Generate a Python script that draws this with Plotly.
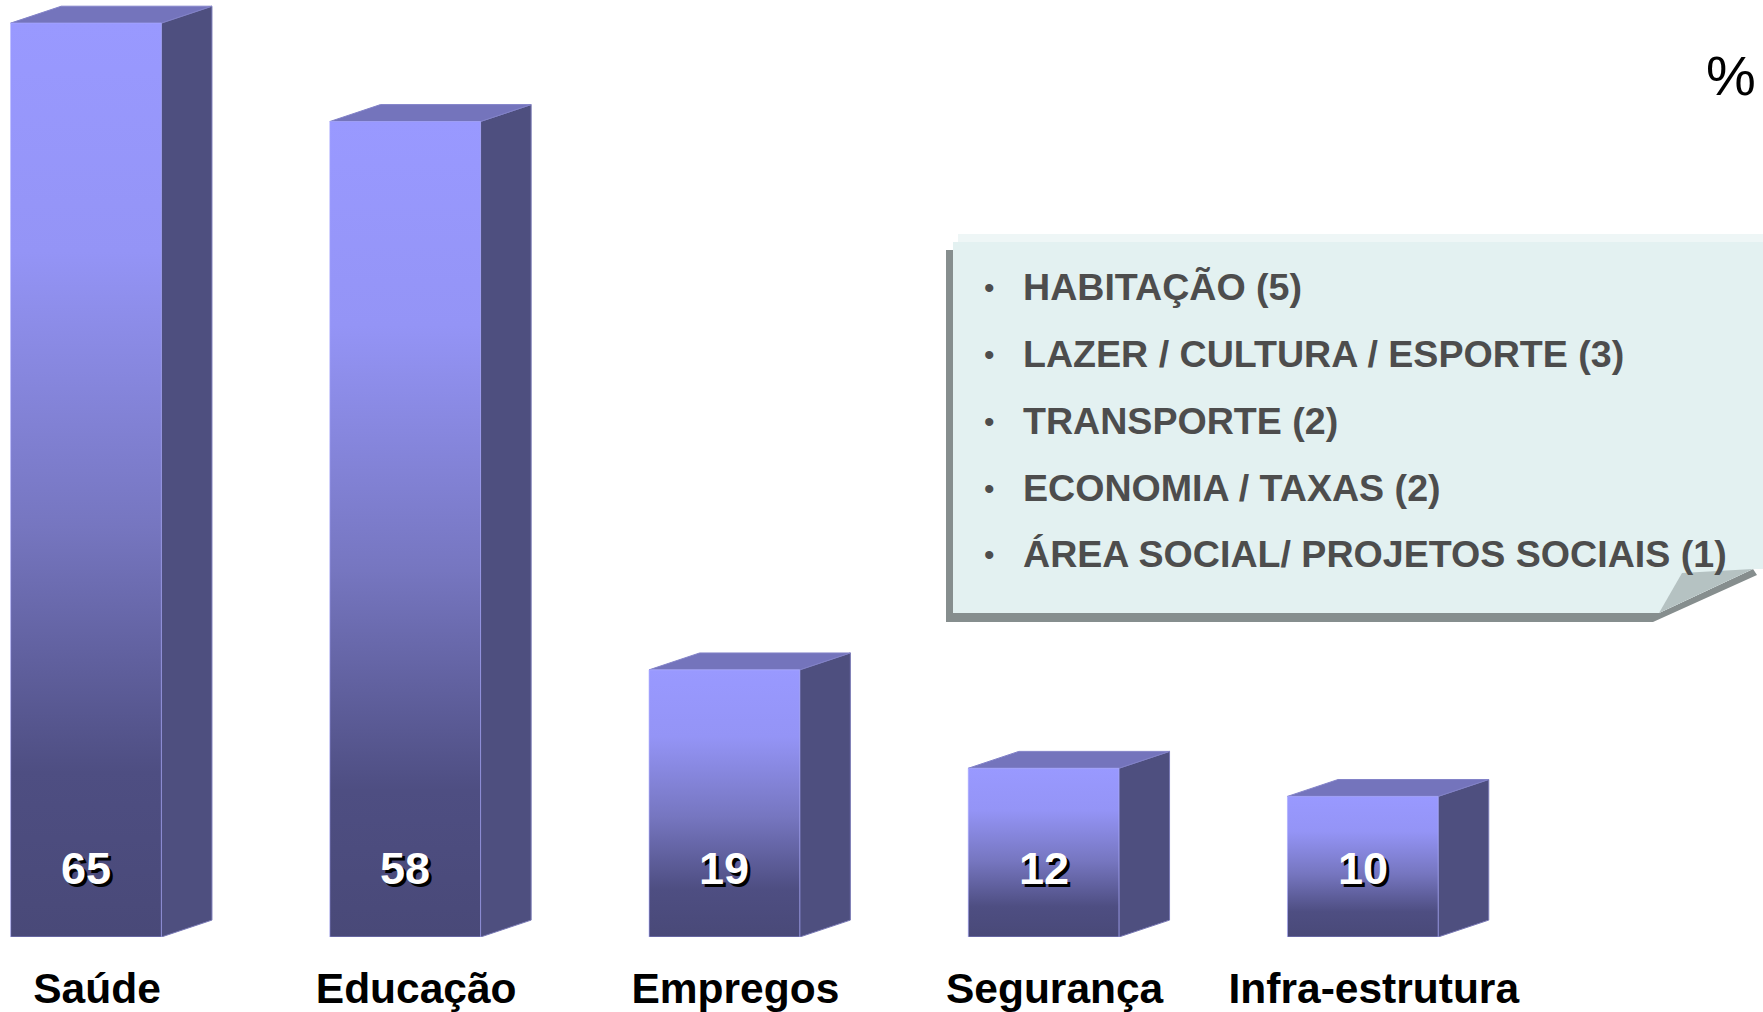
import plotly.graph_objects as go

# ---------------- data ----------------
categories = ["Saúde", "Educação", "Empregos", "Segurança", "Infra-estrutura"]
values = [65, 58, 19, 12, 10]
other_items = [
    "HABITAÇÃO (5)",
    "LAZER / CULTURA / ESPORTE (3)",
    "TRANSPORTE (2)",
    "ECONOMIA / TAXAS (2)",
    "ÁREA SOCIAL/ PROJETOS SOCIAIS (1)",
]
unit_label = "%"

# ---------------- geometry / style ----------------
W, H = 1763, 1012
MB = 75                     # bottom margin (room for category labels)
PH = H - MB                 # plot height in px
PX_PER_UNIT_Y = 14.06
PX_PER_CAT = 319.2
X0_PX = 86.0                # pixel position of first category centre
xmin = -X0_PX / PX_PER_CAT
xmax = xmin + W / PX_PER_CAT
ymax = PH / PX_PER_UNIT_Y

BAR_W = 150.7 / PX_PER_CAT          # front face width in category units
DX = 50.6 / PX_PER_CAT              # depth offset (x)
DY = 16.9 / PX_PER_UNIT_Y           # depth offset (y)

FRONT_SCALE = [
    [0.0, "rgb(73,73,120)"],
    [0.18, "rgb(78,78,130)"],
    [0.45, "rgb(118,118,192)"],
    [0.75, "rgb(148,148,246)"],
    [1.0, "rgb(153,153,255)"],
]
SIDE_COLOR = "rgb(78,79,127)"
TOP_COLOR = "rgb(116,116,188)"
FONT = "Liberation Sans, Arial, Helvetica, sans-serif"

fig = go.Figure()

for i, v in enumerate(values):
    l, r = i - BAR_W / 2, i + BAR_W / 2
    # side face
    fig.add_trace(go.Scatter(
        x=[r, r + DX, r + DX, r, r], y=[0, DY, v + DY, v, 0],
        fill="toself", fillcolor=SIDE_COLOR, mode="lines",
        line=dict(color="rgb(120,120,180)", width=1),
        hoverinfo="skip", showlegend=False))
    # top face
    fig.add_trace(go.Scatter(
        x=[l, l + DX, r + DX, r, l], y=[v, v + DY, v + DY, v, v],
        fill="toself", fillcolor=TOP_COLOR, mode="lines",
        line=dict(color="rgb(130,130,200)", width=1),
        hoverinfo="skip", showlegend=False))
    # front face with vertical gradient
    fig.add_trace(go.Scatter(
        x=[l, r, r, l, l], y=[0, 0, v, v, 0],
        fill="toself", mode="lines",
        fillgradient=dict(type="vertical", colorscale=FRONT_SCALE, start=0, stop=v),
        line=dict(color="rgba(170,170,255,0.6)", width=1),
        hoverinfo="skip", showlegend=False))

annotations = []
LABEL_Y = 4.9
for i, v in enumerate(values):
    for dx_, dy_, col in [(3, -3, "black"), (0, 0, "white")]:
        annotations.append(dict(
            x=i, y=LABEL_Y, xref="x", yref="y", text=f"<b>{v}</b>",
            showarrow=False, xshift=dx_, yshift=dy_,
            font=dict(family=FONT, size=45, color=col)))


def pp(x, y):
    return x / W, (PH - y) / PH


def path(points):
    pts = [pp(x, y) for x, y in points]
    return "M " + " L ".join(f"{a:.5f},{b:.5f}" for a, b in pts) + " Z"


shapes = [
    dict(type="path", xref="paper", yref="paper", layer="above",
         path=path([(946, 250), (953, 250), (953, 613), (1659, 613), (1753, 569),
                    (1757, 575), (1653, 622), (946, 622)]),
         fillcolor="rgb(134,142,142)", line=dict(width=0)),
    dict(type="path", xref="paper", yref="paper", layer="above",
         path=path([(953, 242), (1763, 242), (1763, 569), (1753, 569), (1659, 613), (953, 613)]),
         fillcolor="rgb(227,241,241)", line=dict(width=0)),
    dict(type="path", xref="paper", yref="paper", layer="above",
         path=path([(958, 234), (1763, 234), (1763, 242), (958, 242)]),
         fillcolor="rgb(238,246,246)", line=dict(width=0)),
    dict(type="path", xref="paper", yref="paper", layer="above",
         path=path([(1659, 613), (1682, 573), (1753, 569)]),
         fillcolor="rgb(181,194,194)", line=dict(width=0)),
]

line_ys = [287, 354, 421, 488, 554]
for txt, ly in zip(other_items, line_ys):
    bx, by = pp(989, ly)
    tx, ty = pp(1021, ly)
    annotations.append(dict(x=bx, y=by, xref="paper", yref="paper", text="•",
                            showarrow=False, xanchor="center", yanchor="middle",
                            font=dict(family=FONT, size=30, color="rgb(77,77,77)")))
    annotations.append(dict(x=tx, y=ty, xref="paper", yref="paper", text=f"<b>{txt}</b>",
                            showarrow=False, xanchor="left", yanchor="middle",
                            font=dict(family=FONT, size=37.6, color="rgb(77,77,77)")))

ux, uy = pp(1731, 76)
annotations.append(dict(x=ux, y=uy, xref="paper", yref="paper", text=unit_label,
                        showarrow=False, xanchor="center", yanchor="middle",
                        font=dict(family=FONT, size=56, color="black")))

fig.update_layout(
    width=W, height=H,
    margin=dict(l=0, r=0, t=0, b=MB, pad=0),
    paper_bgcolor="white", plot_bgcolor="white",
    xaxis=dict(range=[xmin, xmax], tickvals=list(range(len(categories))),
               ticktext=[f"<b>{c}</b>" for c in categories],
               showgrid=False, zeroline=False, showline=False, ticks="",
               ticklabelshift=11, ticklabelstandoff=22,
               tickfont=dict(family=FONT, size=42.5, color="black")),
    yaxis=dict(range=[0, ymax], visible=False, showgrid=False, zeroline=False),
    shapes=shapes,
    annotations=annotations,
    showlegend=False,
)

fig.write_html(
    "out.html",
    config={"displayModeBar": False},
    post_script="document.body.style.margin='0px';document.body.style.overflow='hidden';",
)
